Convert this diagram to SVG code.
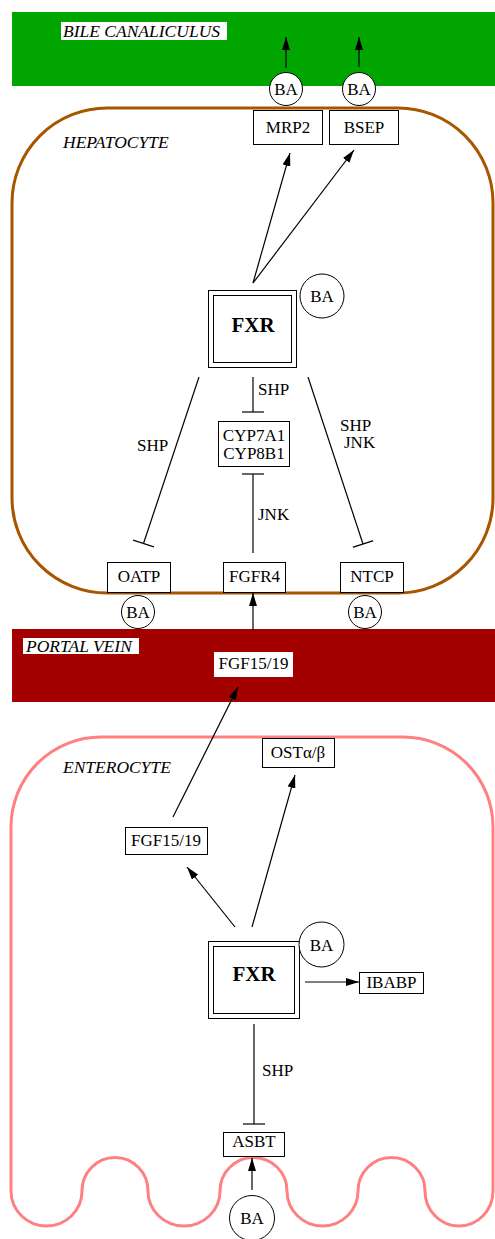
<svg xmlns="http://www.w3.org/2000/svg" width="495" height="1239" viewBox="0 0 495 1239">
<style>
text{font-family:"Liberation Serif","Times New Roman",serif;font-size:17px;fill:#000}
.it{font-style:italic;font-size:17.5px}
.c{text-anchor:middle}
.b{font-weight:bold;font-size:21px}
.box{fill:#fff;stroke:#000;stroke-width:1}
.ba{fill:#fff;stroke:#000;stroke-width:1}
.lbl{fill:#fff}
.e{fill:none;stroke:#000;stroke-width:1.2}
.arr{marker-end:url(#ah)}
.inh{marker-end:url(#tee)}
</style>
<defs>
<marker id="ah" viewBox="0 0 13 8" refX="13" refY="4" markerWidth="13" markerHeight="8" markerUnits="userSpaceOnUse" orient="auto"><path d="M0,0 L13,4 L0,8 z" fill="#000"/></marker>
<marker id="tee" viewBox="0 0 2 22" refX="1" refY="11" markerWidth="2" markerHeight="22" markerUnits="userSpaceOnUse" orient="auto"><path d="M1,0 L1,22" stroke="#000" stroke-width="1.2"/></marker>
</defs>

<g id="bile-canaliculus">
<rect x="12" y="12" width="483" height="74" fill="#00a500"/>
<rect x="61" y="22" width="166" height="18" class="lbl"/>
<text x="63" y="37" class="it">BILE CANALICULUS</text>
</g>

<g id="portal-vein">
<rect x="12" y="629" width="483" height="73" fill="#a30000"/>
<rect x="23" y="638" width="116" height="16" class="lbl"/>
<text x="26" y="652" class="it">PORTAL VEIN</text>
</g>

<g id="hepatocyte">
<rect x="12" y="108" width="481" height="485" rx="95" ry="95" fill="#fff" stroke="#a85500" stroke-width="3"/>
<text x="63" y="148" class="it">HEPATOCYTE</text>
</g>

<g id="enterocyte">
<path d="M11,1191 L11,827 A90,90 0 0 1 101,737 L403,737 A90,90 0 0 1 493,827 L493,1191 A34,35 0 0 1 425,1191 A33.5,33.5 0 0 0 358,1191 A35.5,35 0 0 1 287,1191 A33.5,33.5 0 0 0 220,1191 A36,35 0 0 1 148,1191 A33,33.5 0 0 0 82,1191 A35.5,35 0 0 1 11,1191 Z" fill="#fff" stroke="#ff8080" stroke-width="3"/>
<text x="63" y="773" class="it">ENTEROCYTE</text>
</g>

<g id="fgf-portal">
<rect x="214" y="652" width="79" height="25" class="lbl"/>
<text x="253.5" y="669" class="c">FGF15/19</text>
</g>

<g id="mrp2"><rect x="253.5" y="110.5" width="69" height="34" class="box"/><text x="288" y="133" class="c">MRP2</text></g>
<g id="bsep"><rect x="329.5" y="110.5" width="69" height="34" class="box"/><text x="364" y="133" class="c">BSEP</text></g>
<g id="ba-mrp2"><circle cx="286" cy="89" r="16.5" class="ba"/><text x="286" y="95" class="c">BA</text></g>
<g id="ba-bsep"><circle cx="359" cy="89" r="16.5" class="ba"/><text x="359" y="95" class="c">BA</text></g>

<g id="fxr-hep">
<rect x="208.5" y="290.5" width="88" height="77" fill="#fff" stroke="#000"/>
<rect x="213.5" y="295.5" width="78" height="67" fill="none" stroke="#000"/>
<text x="253" y="332" class="c b">FXR</text>
</g>
<g id="ba-fxr-hep"><circle cx="322" cy="296" r="22" class="ba"/><text x="322" y="302" class="c">BA</text></g>

<g id="cyp"><rect x="218.5" y="421.5" width="71" height="45" class="box"/><text x="254" y="441" class="c">CYP7A1</text><text x="254" y="459" class="c">CYP8B1</text></g>

<g id="oatp"><rect x="107.5" y="562.5" width="63" height="30" class="box"/><text x="139" y="582" class="c">OATP</text></g>
<g id="fgfr4"><rect x="223.5" y="562.5" width="62" height="30" class="box"/><text x="254.5" y="582" class="c">FGFR4</text></g>
<g id="ntcp"><rect x="340.5" y="562.5" width="63" height="30" class="box"/><text x="372" y="582" class="c">NTCP</text></g>
<g id="ba-oatp"><circle cx="138" cy="612" r="16.5" class="ba"/><text x="138" y="618" class="c">BA</text></g>
<g id="ba-ntcp"><circle cx="365" cy="612" r="16.5" class="ba"/><text x="365" y="618" class="c">BA</text></g>

<g id="ost"><rect x="262.5" y="738.5" width="72" height="29" class="box"/><text x="298" y="758" class="c">OSTα/β</text></g>
<g id="fgf-ent"><rect x="125.5" y="827.5" width="82" height="27" class="box"/><text x="166" y="846" class="c">FGF15/19</text></g>

<g id="fxr-ent">
<rect x="208.5" y="941.5" width="91" height="77" fill="#fff" stroke="#000"/>
<rect x="213.5" y="946.5" width="81" height="67" fill="none" stroke="#000"/>
<text x="254" y="981" class="c b">FXR</text>
</g>
<g id="ba-fxr-ent"><circle cx="321.5" cy="944.5" r="22.5" class="ba"/><text x="321.5" y="950.5" class="c">BA</text></g>
<g id="ibabp"><rect x="359.5" y="972.5" width="64" height="21" class="box"/><text x="391.5" y="988" class="c">IBABP</text></g>
<g id="asbt"><rect x="223.5" y="1132.5" width="61" height="24" class="box"/><text x="254" y="1147" class="c">ASBT</text></g>
<g id="ba-asbt"><circle cx="252" cy="1218" r="22.5" class="ba"/><text x="252" y="1224" class="c">BA</text></g>

<g id="connectors">
<line x1="286" y1="68" x2="286" y2="37" class="e arr"/>
<line x1="359" y1="67" x2="359" y2="37" class="e arr"/>
<line x1="253" y1="283" x2="290" y2="153" class="e arr"/>
<line x1="253" y1="283" x2="354" y2="150" class="e arr"/>
<line x1="253" y1="377" x2="253" y2="412" class="e inh"/>
<text x="258" y="395">SHP</text>
<line x1="253" y1="553" x2="253" y2="474" class="e inh"/>
<text x="258" y="520">JNK</text>
<line x1="199" y1="377" x2="143.5" y2="543.5" class="e inh"/>
<text x="137" y="451">SHP</text>
<line x1="308" y1="377" x2="363" y2="544" class="e inh"/>
<text x="340" y="431">SHP</text>
<text x="344" y="448">JNK</text>
<line x1="253" y1="630" x2="253" y2="593" class="e arr"/>
<line x1="173" y1="817" x2="238" y2="687" class="e arr"/>
<line x1="235" y1="927" x2="187" y2="867" class="e arr"/>
<line x1="252" y1="927" x2="295" y2="775" class="e arr"/>
<line x1="305" y1="982" x2="359" y2="982" class="e arr"/>
<line x1="254" y1="1024" x2="254" y2="1124" class="e inh"/>
<text x="262" y="1076">SHP</text>
<line x1="252" y1="1190" x2="252" y2="1158" class="e arr"/>
</g>
</svg>
